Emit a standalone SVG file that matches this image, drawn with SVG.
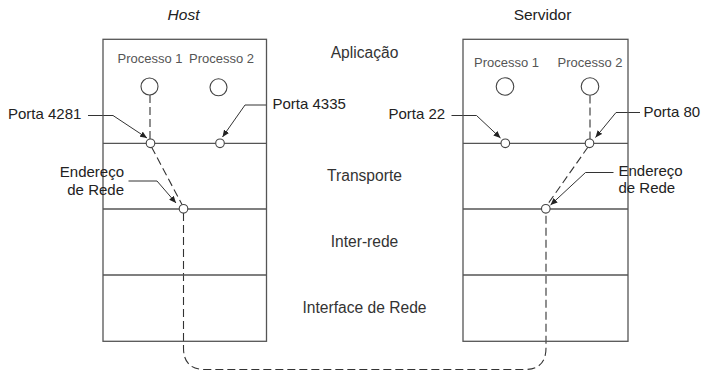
<svg xmlns="http://www.w3.org/2000/svg" width="703" height="371" viewBox="0 0 703 371">
  <style>
    .box { fill: none; stroke: #555; stroke-width: 1.3; }
    .layer { stroke: #555; stroke-width: 1.3; }
    .proc { fill: #fff; stroke: #444; stroke-width: 1.1; }
    .port { fill: #fff; stroke: #444; stroke-width: 1.1; }
    .flow { fill: none; stroke: #333; stroke-width: 1.1; stroke-dasharray: 8 4; }
    .lead { fill: none; stroke: #333; stroke-width: 1; marker-end: url(#tip); }
    text { font-family: "Liberation Sans", Arial, sans-serif; fill: #222; }
    .lbl { font-size: 15px; }
    .ttl { font-size: 15.5px; text-anchor: middle; }
    .lay { font-size: 15.6px; text-anchor: middle; fill: #333; }
    .pr { font-size: 13px; text-anchor: middle; fill: #555; }
  </style>
  <defs>
    <marker id="tip" markerUnits="userSpaceOnUse" markerWidth="8" markerHeight="6" refX="7" refY="3" orient="auto">
      <path d="M0,0 L7,3 L0,6 Z" fill="#222"/>
    </marker>
  </defs>

  <!-- titles -->
  <text class="ttl" x="183.5" y="19.5" font-style="italic">Host</text>
  <text class="ttl" x="542.5" y="19.5">Servidor</text>

  <!-- layer names -->
  <text class="lay" x="364.5" y="57.5">Aplicação</text>
  <text class="lay" x="364.5" y="181">Transporte</text>
  <text class="lay" x="364.5" y="246.5">Inter-rede</text>
  <text class="lay" x="364.5" y="312.5">Interface de Rede</text>

  <!-- connectors: dashed data path and label leaders -->
  <g id="connectors">
    <path class="flow" d="M150,95 V139"/>
    <path class="flow" d="M151.5,147 L182,204.5"/>
    <path class="flow" d="M183.5,213 V348 Q183.5,369.5 205,369.5 H524.5 Q546,369.5 546,348 V213"/>
    <path class="flow" d="M590,95.5 V139"/>
    <path class="flow" d="M588,147 L547.5,204.5"/>

    <path class="lead" d="M88,115.5 H113 L147,138"/>
    <path class="lead" d="M266,105 H245 L222.5,137"/>
    <path class="lead" d="M128.5,181 H157 L176,203"/>
    <path class="lead" d="M451.5,115.5 H476.5 L500.5,138"/>
    <path class="lead" d="M640,112.5 H616 L595.5,137.5"/>
    <path class="lead" d="M613.5,172.5 H585.5 L550.5,205"/>
  </g>

  <!-- host stack -->
  <g id="host">
    <rect class="box" x="103" y="39.3" width="163.5" height="302"/>
    <line class="layer" x1="103" y1="143.3" x2="266.5" y2="143.3"/>
    <line class="layer" x1="103" y1="209" x2="266.5" y2="209"/>
    <line class="layer" x1="103" y1="275" x2="266.5" y2="275"/>
    <text class="pr" x="150" y="62.5">Processo 1</text>
    <text class="pr" x="221.5" y="62.5">Processo 2</text>
    <circle class="proc" cx="149.5" cy="86.5" r="8.5"/>
    <circle class="proc" cx="218.5" cy="87.3" r="8.5"/>
  </g>
  <g id="host-port-4281">
    <circle class="port" cx="150.5" cy="143.3" r="4.3"/>
    <text class="lbl" x="8" y="119">Porta 4281</text>
  </g>
  <g id="host-port-4335">
    <circle class="port" cx="220" cy="143.3" r="4.3"/>
    <text class="lbl" x="272.5" y="108.5">Porta 4335</text>
  </g>
  <g id="host-address">
    <circle class="port" cx="183.5" cy="208.8" r="4.3"/>
    <text class="lbl" x="124" y="176.5" text-anchor="end">Endereço</text>
    <text class="lbl" x="124" y="194.5" text-anchor="end">de Rede</text>
  </g>

  <!-- server stack -->
  <g id="servidor">
    <rect class="box" x="463" y="39.3" width="165" height="302"/>
    <line class="layer" x1="463" y1="143.3" x2="628" y2="143.3"/>
    <line class="layer" x1="463" y1="209" x2="628" y2="209"/>
    <line class="layer" x1="463" y1="275" x2="628" y2="275"/>
    <text class="pr" x="506.5" y="66.5">Processo 1</text>
    <text class="pr" x="590" y="66.5">Processo 2</text>
    <circle class="proc" cx="505" cy="86.5" r="8.8"/>
    <circle class="proc" cx="590" cy="86.5" r="8.8"/>
  </g>
  <g id="servidor-port-22">
    <circle class="port" cx="505.3" cy="143.3" r="4.3"/>
    <text class="lbl" x="388.5" y="118.5">Porta 22</text>
  </g>
  <g id="servidor-port-80">
    <circle class="port" cx="589.5" cy="143.3" r="4.3"/>
    <text class="lbl" x="643.5" y="116.5">Porta 80</text>
  </g>
  <g id="servidor-address">
    <circle class="port" cx="545.8" cy="208.8" r="4.3"/>
    <text class="lbl" x="618.5" y="176">Endereço</text>
    <text class="lbl" x="618.5" y="193">de Rede</text>
  </g>
</svg>
